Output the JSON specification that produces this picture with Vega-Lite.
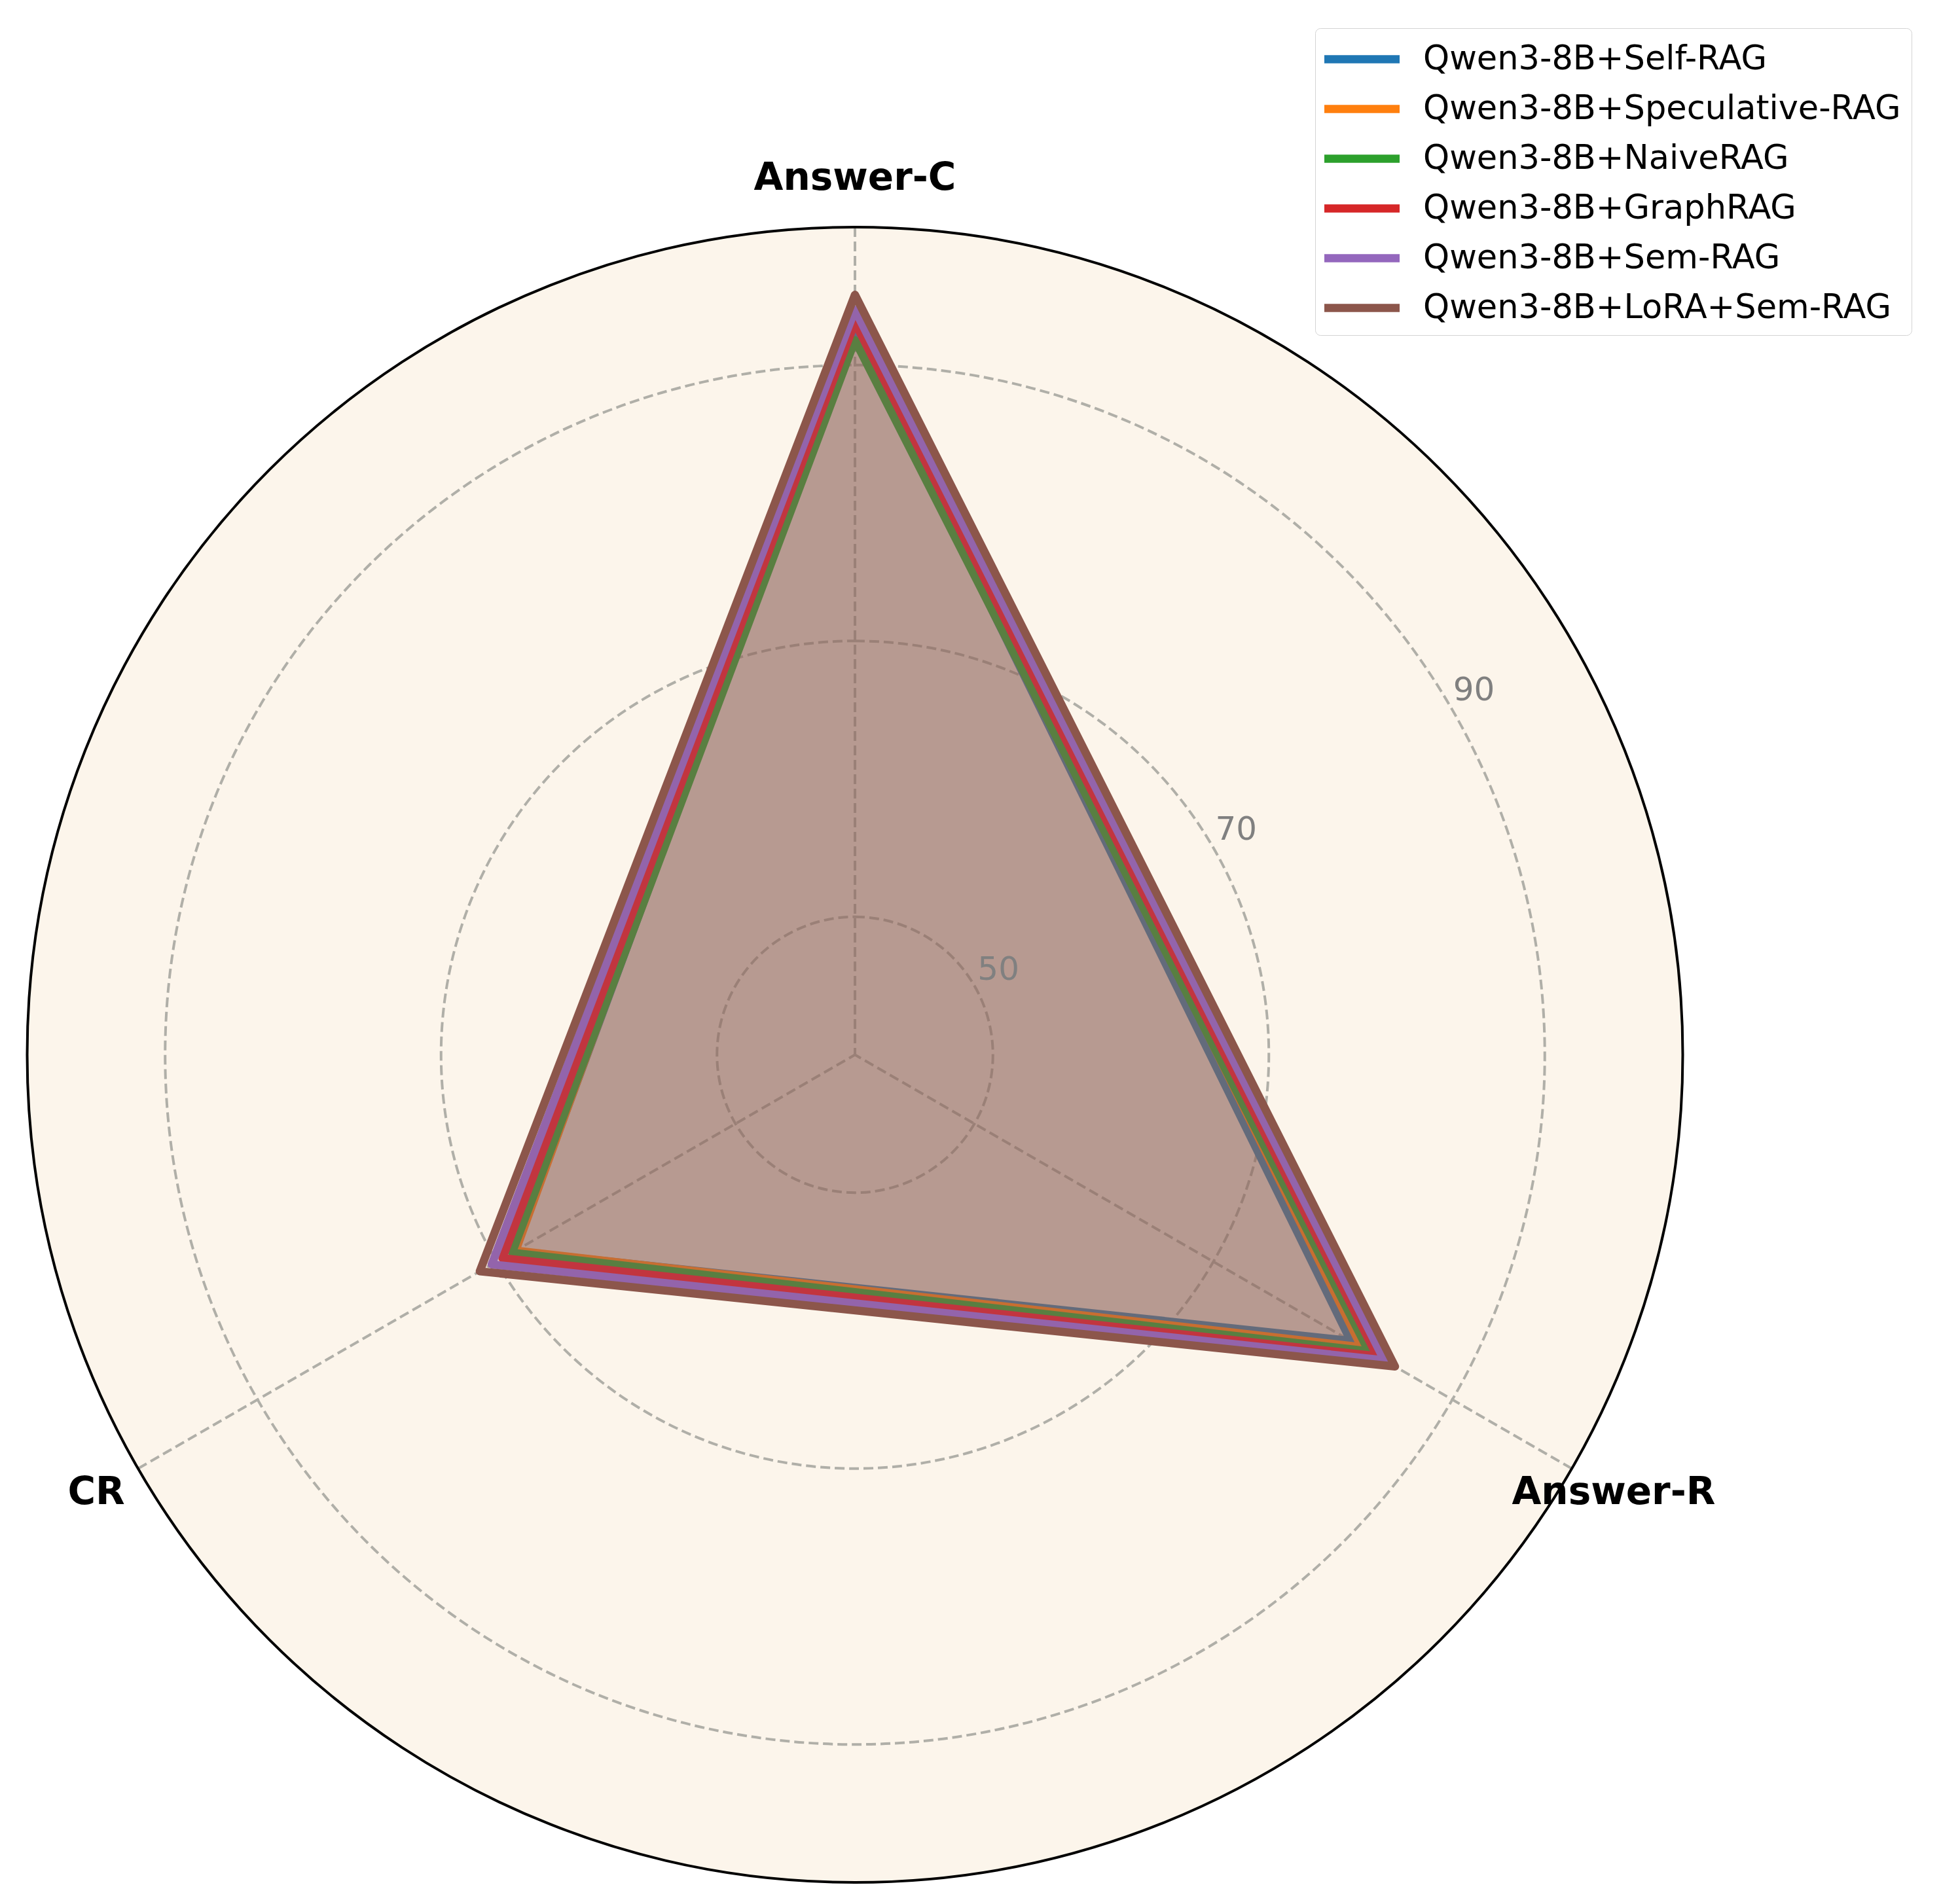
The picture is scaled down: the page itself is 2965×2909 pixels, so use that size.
{
  "$schema": "https://vega.github.io/schema/vega-lite/v6.json",
  "width": 2965,
  "height": 2909,
  "autosize": {"type": "none"},
  "padding": 0,
  "background": "white",
  "config": {"view": {"stroke": null}, "font": "DejaVu Sans"},
  "datasets": {
    "scores": [
      {"model": "Qwen3-8B+Self-RAG", "metric": "Answer-C", "value": 92.5},
      {"model": "Qwen3-8B+Self-RAG", "metric": "Answer-R", "value": 81.5},
      {"model": "Qwen3-8B+Self-RAG", "metric": "CR", "value": 68.5},
      {"model": "Qwen3-8B+Speculative-RAG", "metric": "Answer-C", "value": 93.5},
      {"model": "Qwen3-8B+Speculative-RAG", "metric": "Answer-R", "value": 82.4},
      {"model": "Qwen3-8B+Speculative-RAG", "metric": "CR", "value": 68.4},
      {"model": "Qwen3-8B+NaiveRAG", "metric": "Answer-C", "value": 91.8},
      {"model": "Qwen3-8B+NaiveRAG", "metric": "Answer-R", "value": 83.0},
      {"model": "Qwen3-8B+NaiveRAG", "metric": "CR", "value": 68.7},
      {"model": "Qwen3-8B+GraphRAG", "metric": "Answer-C", "value": 93.1},
      {"model": "Qwen3-8B+GraphRAG", "metric": "Answer-R", "value": 83.7},
      {"model": "Qwen3-8B+GraphRAG", "metric": "CR", "value": 69.5},
      {"model": "Qwen3-8B+Sem-RAG", "metric": "Answer-C", "value": 94.0},
      {"model": "Qwen3-8B+Sem-RAG", "metric": "Answer-R", "value": 84.3},
      {"model": "Qwen3-8B+Sem-RAG", "metric": "CR", "value": 70.4},
      {"model": "Qwen3-8B+LoRA+Sem-RAG", "metric": "Answer-C", "value": 95.1},
      {"model": "Qwen3-8B+LoRA+Sem-RAG", "metric": "Answer-R", "value": 85.2},
      {"model": "Qwen3-8B+LoRA+Sem-RAG", "metric": "CR", "value": 71.4}
    ],
    "rings": [{"ring": 50}, {"ring": 70}, {"ring": 90}],
    "outer": [{"ring": 100}],
    "metrics": [{"metric": "Answer-C"}, {"metric": "Answer-R"}, {"metric": "CR"}]
  },
  "layer": [
    {
      "data": {"name": "outer"},
      "mark": {"type": "arc", "theta": 0, "theta2": 6.2832, "fill": "#fcf5eb", "stroke": null},
      "encoding": {
        "x": {"datum": 0, "type": "quantitative", "scale": {"domain": [-61.97, 78.72], "nice": false, "zero": false}, "axis": null},
        "y": {"datum": 0, "type": "quantitative", "scale": {"domain": [-61.57, 76.47], "nice": false, "zero": false}, "axis": null},
        "radius": {"field": "ring", "type": "quantitative", "stack": null, "scale": {"type": "linear", "domain": [40, 100], "range": [0, 1264.5], "zero": false, "nice": false}}
      }
    },
    {
      "data": {"name": "rings"},
      "mark": {"type": "arc", "theta": 0, "theta2": 6.2832, "filled": false, "fill": null, "stroke": "#b0afa8", "strokeWidth": 4, "strokeDash": [15, 7]},
      "encoding": {
        "x": {"datum": 0, "type": "quantitative", "scale": {"domain": [-61.97, 78.72], "nice": false, "zero": false}, "axis": null},
        "y": {"datum": 0, "type": "quantitative", "scale": {"domain": [-61.57, 76.47], "nice": false, "zero": false}, "axis": null},
        "radius": {"field": "ring", "type": "quantitative", "stack": null, "scale": {"type": "linear", "domain": [40, 100], "range": [0, 1264.5], "zero": false, "nice": false}}
      }
    },
    {
      "data": {"name": "metrics"},
      "transform": [
        {"calculate": "indexof(['Answer-C','Answer-R','CR'], datum.metric) * 2 * PI / 3", "as": "angle"},
        {"calculate": "60 * sin(datum.angle)", "as": "sx"},
        {"calculate": "60 * cos(datum.angle)", "as": "sy"}
      ],
      "mark": {"type": "rule", "stroke": "#b0afa8", "strokeWidth": 4, "strokeDash": [15, 7]},
      "encoding": {
        "x": {"field": "sx", "type": "quantitative", "scale": {"domain": [-61.97, 78.72], "nice": false, "zero": false}, "axis": null},
        "y": {"field": "sy", "type": "quantitative", "scale": {"domain": [-61.57, 76.47], "nice": false, "zero": false}, "axis": null},
        "x2": {"datum": 0},
        "y2": {"datum": 0}
      }
    },
    {
      "data": {"name": "scores"},
      "transform": [
        {"calculate": "indexof(['Answer-C','Answer-R','CR'], datum.metric) * 2 * PI / 3", "as": "angle"},
        {"calculate": "(datum.value - 40) * sin(datum.angle)", "as": "px"},
        {"calculate": "(datum.value - 40) * cos(datum.angle)", "as": "py"}
      ],
      "encoding": {
        "x": {"field": "px", "type": "quantitative", "scale": {"domain": [-61.97, 78.72], "nice": false, "zero": false}, "axis": null},
        "y": {"field": "py", "type": "quantitative", "scale": {"domain": [-61.57, 76.47], "nice": false, "zero": false}, "axis": null},
        "order": {"field": "angle", "type": "quantitative"},
        "color": {
          "field": "model",
          "type": "nominal",
          "scale": {
            "domain": ["Qwen3-8B+Self-RAG", "Qwen3-8B+Speculative-RAG", "Qwen3-8B+NaiveRAG", "Qwen3-8B+GraphRAG", "Qwen3-8B+Sem-RAG", "Qwen3-8B+LoRA+Sem-RAG"],
            "range": ["#1f77b4", "#ff7f0e", "#2ca02c", "#d62728", "#9467bd", "#8c564b"]
          },
          "legend": {
            "title": null,
            "orient": "none",
            "legendX": 2009,
            "legendY": 43,
            "padding": 16,
            "labelFont": "DejaVu Sans",
            "labelFontSize": 51,
            "labelColor": "black",
            "labelOffset": 62,
            "labelLimit": 2000,
            "symbolType": "M-2.3,0H2.3",
            "symbolStrokeWidth": 12.5,
            "symbolSize": 2500,
            "symbolOffset": 24,
            "rowPadding": 19,
            "fillColor": "white",
            "strokeColor": "#d3d3d3",
            "cornerRadius": 8
          }
        }
      },
      "layer": [
        {"transform": [{"filter": "datum.model == 'Qwen3-8B+Self-RAG'"}], "mark": {"type": "line", "interpolate": "linear-closed", "strokeWidth": 12.5, "strokeJoin": "round", "fill": "#1f77b4", "fillOpacity": 0.15}},
        {"transform": [{"filter": "datum.model == 'Qwen3-8B+Speculative-RAG'"}], "mark": {"type": "line", "interpolate": "linear-closed", "strokeWidth": 12.5, "strokeJoin": "round", "fill": "#ff7f0e", "fillOpacity": 0.15}},
        {"transform": [{"filter": "datum.model == 'Qwen3-8B+NaiveRAG'"}], "mark": {"type": "line", "interpolate": "linear-closed", "strokeWidth": 12.5, "strokeJoin": "round", "fill": "#2ca02c", "fillOpacity": 0.15}},
        {"transform": [{"filter": "datum.model == 'Qwen3-8B+GraphRAG'"}], "mark": {"type": "line", "interpolate": "linear-closed", "strokeWidth": 12.5, "strokeJoin": "round", "fill": "#d62728", "fillOpacity": 0.15}},
        {"transform": [{"filter": "datum.model == 'Qwen3-8B+Sem-RAG'"}], "mark": {"type": "line", "interpolate": "linear-closed", "strokeWidth": 12.5, "strokeJoin": "round", "fill": "#9467bd", "fillOpacity": 0.15}},
        {"transform": [{"filter": "datum.model == 'Qwen3-8B+LoRA+Sem-RAG'"}], "mark": {"type": "line", "interpolate": "linear-closed", "strokeWidth": 12.5, "strokeJoin": "round", "fill": "#8c564b", "fillOpacity": 0.15}}
      ]
    },
    {
      "data": {"name": "outer"},
      "mark": {"type": "arc", "theta": 0, "theta2": 6.2832, "filled": false, "fill": null, "stroke": "black", "strokeWidth": 4},
      "encoding": {
        "x": {"datum": 0, "type": "quantitative", "scale": {"domain": [-61.97, 78.72], "nice": false, "zero": false}, "axis": null},
        "y": {"datum": 0, "type": "quantitative", "scale": {"domain": [-61.57, 76.47], "nice": false, "zero": false}, "axis": null},
        "radius": {"field": "ring", "type": "quantitative", "stack": null, "scale": {"type": "linear", "domain": [40, 100], "range": [0, 1264.5], "zero": false, "nice": false}}
      }
    },
    {
      "data": {"name": "rings"},
      "transform": [
        {"calculate": "(datum.ring - 40 + 2.07) * sin(59.5 * PI / 180)", "as": "lx"},
        {"calculate": "(datum.ring - 40 + 2.07) * cos(59.5 * PI / 180)", "as": "ly"}
      ],
      "mark": {"type": "text", "font": "DejaVu Sans", "fontSize": 50, "color": "#808080", "align": "center", "baseline": "middle"},
      "encoding": {
        "x": {"field": "lx", "type": "quantitative", "scale": {"domain": [-61.97, 78.72], "nice": false, "zero": false}, "axis": null},
        "y": {"field": "ly", "type": "quantitative", "scale": {"domain": [-61.57, 76.47], "nice": false, "zero": false}, "axis": null},
        "text": {"field": "ring", "type": "nominal"}
      }
    },
    {
      "data": {"name": "metrics"},
      "transform": [
        {"calculate": "indexof(['Answer-C','Answer-R','CR'], datum.metric) * 2 * PI / 3", "as": "angle"},
        {"calculate": "63.5 * sin(datum.angle)", "as": "tx"},
        {"calculate": "63.5 * cos(datum.angle)", "as": "ty"}
      ],
      "mark": {"type": "text", "font": "DejaVu Sans", "fontSize": 58, "fontWeight": "bold", "color": "black", "align": "center", "baseline": "middle"},
      "encoding": {
        "x": {"field": "tx", "type": "quantitative", "scale": {"domain": [-61.97, 78.72], "nice": false, "zero": false}, "axis": null},
        "y": {"field": "ty", "type": "quantitative", "scale": {"domain": [-61.57, 76.47], "nice": false, "zero": false}, "axis": null},
        "text": {"field": "metric", "type": "nominal"}
      }
    }
  ]
}
